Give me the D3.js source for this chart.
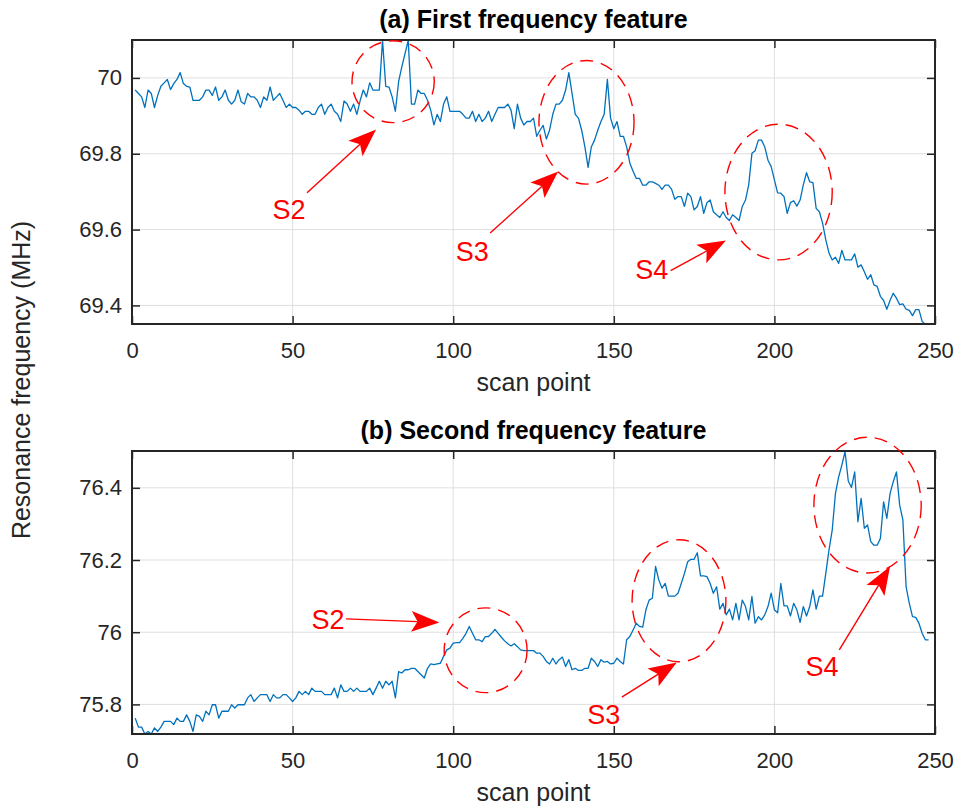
<!DOCTYPE html>
<html>
<head>
<meta charset="utf-8">
<script src="https://cdn.jsdelivr.net/npm/d3@7"></script>
<style>
  body { margin: 0; background: #fff; }
  svg { display: block; font-family: "Liberation Sans", Arial, sans-serif; }
</style>
</head>
<body>
<div id="chart"></div>
<script>
// resonance frequency per scan point (MHz), scan points start at 1
const firstFeature = [
  69.968,69.959,69.950,69.922,69.968,69.959,69.922,69.954,69.978,69.987,
  69.996,69.969,69.985,69.996,70.014,69.985,69.978,69.976,69.941,69.941,
  69.941,69.950,69.968,69.968,69.954,69.976,69.941,69.950,69.968,69.941,
  69.931,69.941,69.968,69.937,69.931,69.959,69.950,69.950,69.941,69.922,
  69.950,69.941,69.976,69.941,69.950,69.959,69.941,69.922,69.931,69.922,
  69.922,69.915,69.904,69.912,69.912,69.904,69.904,69.922,69.931,69.904,
  69.922,69.931,69.912,69.904,69.885,69.939,69.931,69.912,69.931,69.904,
  69.939,69.968,69.950,69.987,69.968,69.968,69.968,70.099,69.978,69.976,
  69.950,69.912,69.990,70.029,70.064,70.099,69.931,69.931,69.968,69.959,
  69.959,69.941,69.915,69.876,69.904,69.885,69.931,69.950,69.912,69.912,
  69.912,69.912,69.904,69.894,69.894,69.912,69.885,69.904,69.885,69.894,
  69.912,69.885,69.904,69.922,69.922,69.922,69.931,69.915,69.866,69.931,
  69.894,69.876,69.885,69.885,69.894,69.846,69.862,69.875,69.839,69.862,
  69.904,69.931,69.931,69.941,69.968,70.014,69.959,69.904,69.894,69.862,
  69.818,69.764,69.818,69.836,69.862,69.885,69.904,69.996,69.894,69.866,
  69.885,69.846,69.846,69.818,69.775,69.754,69.735,69.735,69.717,69.717,
  69.726,69.726,69.722,69.717,69.706,69.717,69.717,69.706,69.680,69.687,
  69.687,69.661,69.696,69.687,69.652,69.661,69.687,69.643,69.671,69.678,
  69.647,69.639,69.632,69.647,69.632,69.624,69.639,69.632,69.624,69.661,
  69.678,69.718,69.801,69.808,69.836,69.836,69.818,69.783,69.766,69.731,
  69.697,69.696,69.687,69.643,69.671,69.676,69.662,69.678,69.718,69.750,
  69.726,69.724,69.656,69.647,69.617,69.573,69.538,69.520,69.527,69.511,
  69.545,69.520,69.520,69.520,69.536,69.501,69.507,69.489,69.469,69.481,
  69.454,69.450,69.424,69.413,69.390,69.413,69.432,69.419,69.402,69.404,
  69.390,69.387,69.373,69.389,69.389,69.358,69.349
];

const secondFeature = [
  75.762,75.737,75.737,75.718,75.725,75.718,75.735,75.725,75.737,75.753,
  75.753,75.753,75.744,75.762,75.753,75.753,75.771,75.753,75.725,75.771,
  75.767,75.753,75.781,75.771,75.799,75.799,75.762,75.781,75.781,75.781,
  75.799,75.790,75.799,75.799,75.799,75.818,75.827,75.808,75.818,75.827,
  75.827,75.827,75.808,75.827,75.818,75.818,75.827,75.827,75.818,75.808,
  75.818,75.836,75.827,75.836,75.827,75.845,75.836,75.836,75.836,75.827,
  75.827,75.827,75.845,75.818,75.854,75.836,75.836,75.845,75.836,75.845,
  75.836,75.836,75.836,75.845,75.827,75.845,75.864,75.845,75.864,75.854,
  75.864,75.818,75.891,75.887,75.896,75.896,75.900,75.900,75.891,75.882,
  75.873,75.900,75.912,75.910,75.912,75.914,75.933,75.951,75.956,75.970,
  75.971,75.971,75.983,75.997,76.016,75.997,75.979,75.979,75.974,75.988,
  75.988,75.997,76.008,75.997,75.986,75.976,75.968,75.962,75.968,75.960,
  75.951,75.949,75.949,75.949,75.949,75.942,75.942,75.933,75.919,75.912,
  75.928,75.912,75.924,75.931,75.905,75.924,75.896,75.900,75.894,75.894,
  75.900,75.900,75.928,75.919,75.905,75.924,75.917,75.919,75.912,75.914,
  75.928,75.919,75.912,75.979,75.988,76.006,76.025,76.016,76.014,76.062,
  76.089,76.094,76.182,76.145,76.122,76.135,76.100,76.100,76.100,76.108,
  76.135,76.163,76.195,76.202,76.202,76.220,76.156,76.156,76.154,76.135,
  76.108,76.126,76.064,76.080,76.048,76.064,76.034,76.080,76.034,76.089,
  76.071,76.034,76.099,76.025,76.043,76.034,76.048,76.071,76.108,76.062,
  76.054,76.135,76.073,76.073,76.045,76.080,76.062,76.027,76.071,76.045,
  76.071,76.117,76.064,76.100,76.100,76.163,76.228,76.283,76.384,76.430,
  76.463,76.500,76.419,76.401,76.444,76.306,76.371,76.288,76.297,76.251,
  76.241,76.241,76.260,76.361,76.315,76.384,76.417,76.444,76.352,76.311,
  76.126,76.080,76.043,76.041,76.025,75.997,75.979,75.979
];

const xTicks = [0, 50, 100, 150, 200, 250];
const yTicksFirst = [69.4, 69.6, 69.8, 70];
const yTicksSecond = [75.8, 76, 76.2, 76.4];

// marked regions, in data units: label spot, arrow start/end, ring centre + radii
const regionsFirst = [
  { label: 'S2', text: [48.9, 69.652], from: [54.5, 69.697], to: [76.0, 69.864], ring: [81.3, 69.990, 12.8, 0.108] },
  { label: 'S3', text: [105.9, 69.541], from: [111.5, 69.591], to: [132.7, 69.753], ring: [141.5, 69.883, 14.8, 0.163] },
  { label: 'S4', text: [161.8, 69.494], from: [167.7, 69.492], to: [184.9, 69.571], ring: [201.3, 69.699, 16.7, 0.179] }
];
const regionsSecond = [
  { label: 'S2', text: [61.0, 76.034], from: [66.6, 76.037], to: [95.7, 76.027], ring: [110.1, 75.950, 12.9, 0.1175] },
  { label: 'S3', text: [146.9, 75.772], from: [152.5, 75.820], to: [169.6, 75.916], ring: [170.3, 76.087, 14.6, 0.169] },
  { label: 'S4', text: [214.8, 75.904], from: [220.2, 75.951], to: [236.0, 76.182], ring: [229.0, 76.352, 16.7, 0.188] }
];

const width = 957, height = 809;
const svg = d3.select('#chart').append('svg')
  .attr('width', width)
  .attr('height', height);

const axisColor = '#262626';

function drawPanel(cfg) {
  const { top, bottom, left, right } = cfg.box;
  const x = d3.scaleLinear().domain([0, 250]).range([left, right]);
  const y = d3.scaleLinear().domain(cfg.yDomain).range([bottom, top]);

  const g = svg.append('g');

  // grid
  g.selectAll('.gx').data(xTicks).enter().append('line')
    .attr('x1', d => x(d)).attr('x2', d => x(d))
    .attr('y1', top).attr('y2', bottom)
    .attr('stroke', '#dfdfdf').attr('stroke-width', 1);
  g.selectAll('.gy').data(cfg.yTicks).enter().append('line')
    .attr('x1', left).attr('x2', right)
    .attr('y1', d => y(d)).attr('y2', d => y(d))
    .attr('stroke', '#dfdfdf').attr('stroke-width', 1);

  // data
  const clipId = 'clip-' + cfg.id;
  svg.append('clipPath').attr('id', clipId).append('rect')
    .attr('x', left).attr('y', top - 1)
    .attr('width', right - left).attr('height', bottom - top + 2);

  const line = d3.line()
    .x((d, i) => x(i + 1))
    .y(d => y(d));
  g.append('path')
    .datum(cfg.values)
    .attr('clip-path', `url(#${clipId})`)
    .attr('fill', 'none')
    .attr('stroke', '#0072BD')
    .attr('stroke-width', 1.3)
    .attr('stroke-linejoin', 'round')
    .attr('d', line);

  // axes (ticks inside, box on)
  const tk = 8;
  const axB = d3.axisBottom(x).tickValues(xTicks).tickSize(-tk).tickPadding(18).tickFormat(d3.format('d'));
  const axT = d3.axisTop(x).tickValues(xTicks).tickSize(-tk).tickFormat('');
  const axL = d3.axisLeft(y).tickValues(cfg.yTicks).tickSize(-tk).tickPadding(10).tickFormat(d => String(+d.toFixed(1)));
  const axR = d3.axisRight(y).tickValues(cfg.yTicks).tickSize(-tk).tickFormat('');

  const styleAxis = sel => {
    sel.select('.domain').remove();
    sel.selectAll('.tick line').attr('stroke', axisColor).attr('stroke-width', 1.5);
    sel.selectAll('.tick text').attr('fill', axisColor).style('font-size', '22px')
      .style('font-family', '"Liberation Sans", Arial, sans-serif');
  };
  g.append('g').attr('transform', `translate(0,${bottom})`).call(axB).call(styleAxis);
  g.append('g').attr('transform', `translate(0,${top})`).call(axT).call(styleAxis);
  g.append('g').attr('transform', `translate(${left},0)`).call(axL).call(styleAxis);
  g.append('g').attr('transform', `translate(${right},0)`).call(axR).call(styleAxis);

  g.append('rect')
    .attr('x', left).attr('y', top)
    .attr('width', right - left).attr('height', bottom - top)
    .attr('fill', 'none').attr('stroke', axisColor).attr('stroke-width', 2);

  // title + x label
  g.append('text')
    .attr('x', (left + right) / 2).attr('y', top - 12)
    .attr('text-anchor', 'middle')
    .style('font-size', '25px').style('font-weight', 'bold')
    .attr('fill', '#000')
    .text(cfg.title);

  g.append('text')
    .attr('x', (left + right) / 2).attr('y', bottom + 67)
    .attr('text-anchor', 'middle')
    .style('font-size', '25px')
    .attr('fill', axisColor)
    .text('scan point');

  // annotations
  const red = '#ff0000';
  cfg.regions.forEach(r => {
    const [cx, cy, rx, ry] = r.ring;
    g.append('ellipse')
      .attr('cx', x(cx)).attr('cy', y(cy))
      .attr('rx', x(cx + rx) - x(cx)).attr('ry', y(cy) - y(cy + ry))
      .attr('fill', 'none').attr('stroke', red)
      .attr('stroke-width', 1.4).attr('stroke-dasharray', '13,8');

    const x0 = x(r.from[0]), y0 = y(r.from[1]);
    const x1 = x(r.to[0]), y1 = y(r.to[1]);
    const len = Math.hypot(x1 - x0, y1 - y0);
    const ux = (x1 - x0) / len, uy = (y1 - y0) / len;
    const nx = -uy, ny = ux;
    const L = 28, W = 10.5, notch = 0.78 * L;
    g.append('line')
      .attr('x1', x0).attr('y1', y0)
      .attr('x2', x1 - ux * notch).attr('y2', y1 - uy * notch)
      .attr('stroke', red).attr('stroke-width', 1.4);
    const pts = [
      [x1, y1],
      [x1 - ux * L + nx * W, y1 - uy * L + ny * W],
      [x1 - ux * notch, y1 - uy * notch],
      [x1 - ux * L - nx * W, y1 - uy * L - ny * W]
    ];
    g.append('polygon')
      .attr('points', pts.map(p => p.join(',')).join(' '))
      .attr('fill', red);

    g.append('text')
      .attr('x', x(r.text[0])).attr('y', y(r.text[1]))
      .attr('text-anchor', 'middle')
      .attr('dominant-baseline', 'central')
      .style('font-size', '27px')
      .attr('fill', red)
      .text(r.label);
  });
}

drawPanel({
  id: 'a',
  box: { top: 40, bottom: 324, left: 132, right: 935 },
  yDomain: [69.351, 70.1],
  yTicks: yTicksFirst,
  values: firstFeature,
  title: '(a) First frequency feature',
  regions: regionsFirst
});

drawPanel({
  id: 'b',
  box: { top: 451, bottom: 734, left: 132, right: 935 },
  yDomain: [75.718, 76.502],
  yTicks: yTicksSecond,
  values: secondFeature,
  title: '(b) Second frequency feature',
  regions: regionsSecond
});

// shared y label
svg.append('text')
  .attr('transform', 'translate(30,380) rotate(-90)')
  .attr('text-anchor', 'middle')
  .style('font-size', '25px')
  .attr('fill', axisColor)
  .text('Resonance frequency (MHz)');
</script>
</body>
</html>
